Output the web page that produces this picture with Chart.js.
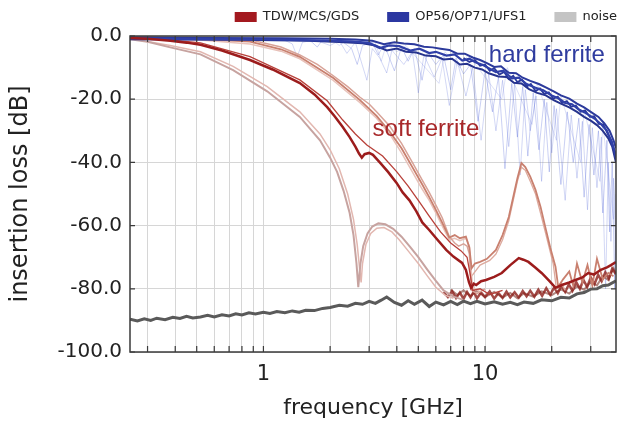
<!DOCTYPE html>
<html lang="en">
<head>
<meta charset="UTF-8">
<title>Insertion loss vs frequency</title>
<script src="https://cdn.jsdelivr.net/npm/chart.js"></script>
<style>
    html, body { margin: 0; padding: 0; background: #fff; }
    .wrap { width: 628px; height: 421px; }
</style>
</head>
<body>
<div class="wrap"><canvas id="chart"></canvas></div>
<script>
// axis ticks
const xTicks = [0.3, 0.4, 0.5, 0.6, 0.7, 0.8, 0.9, 1, 2, 3, 4, 5, 6, 7, 8, 9, 10, 20, 30];
const xLabeled = [1, 10];
const yTicks = [0, -20, -40, -60, -80, -100];

// legend entries
const legendNames = ['TDW/MCS/GDS', 'OP56/OP71/UFS1', 'noise'];

// series: [frequency GHz, insertion loss dB]
const noise = [[0.25,-89.6],[0.27,-90.2],[0.29,-89.5],[0.31,-90.0],[0.33,-89.3],[0.36,-89.8],[0.39,-89.0],[0.42,-89.4],[0.45,-88.7],[0.48,-89.2],
    [0.52,-88.9],[0.56,-88.4],[0.6,-88.9],[0.65,-88.2],[0.7,-88.6],[0.75,-87.9],[0.8,-88.3],[0.86,-87.6],[0.92,-88.0],[1.0,-87.4],
    [1.07,-87.8],[1.15,-87.2],[1.25,-87.6],[1.35,-87.0],[1.45,-87.4],[1.55,-86.8],[1.7,-86.9],[1.85,-86.2],[2.0,-85.9],[2.2,-85.2],
    [2.4,-85.5],[2.6,-84.6],[2.8,-84.9],[3.0,-84.0],[3.2,-84.6],[3.4,-83.6],[3.6,-82.6],[3.9,-84.3],[4.2,-85.2],[4.5,-83.8],
    [4.8,-84.9],[5.2,-83.6],[5.6,-85.6],[6.0,-84.2],[6.5,-85.1],[7.0,-84.0],[7.5,-85.0],[8.0,-83.9],[8.6,-84.7],[9.2,-84.0],
    [10,-84.8],[11,-84.1],[12,-84.9],[13,-84.3],[14,-85.0],[15,-84.2],[16.5,-84.6],[18,-83.5],[20,-83.8],[22,-82.7],
    [24,-82.9],[26,-81.6],[28,-81.2],[30,-80.1],[32,-80.0],[34,-79.0],[36,-78.8],[39,-77.5]];

const softFloorA = [[6.5,-81],[6.8,-82.6],[7.1,-80.8],[7.4,-82.9],[7.7,-81.2],[8,-83.2],[8.3,-81.0],[8.6,-82.7],[8.9,-80.9],[9.2,-83],
    [9.6,-81.2],[10,-82.6],[10.5,-80.8],[11,-83.1],[11.5,-81.3],[12,-82.9],[12.5,-80.9],[13,-82.7],[13.6,-81.1],[14.2,-82.8],[14.8,-80.7],
    [15.4,-82.4],[16,-80.6],[16.7,-82.5],[17.4,-80.3],[18.1,-82.2],[18.9,-79.8],[19.7,-81.9],[20.5,-79.6],[21.3,-81.4],[22.1,-79.0],
    [23,-81.0],[23.9,-78.6],[24.8,-80.6],[25.8,-77.9],[26.8,-80.0],[27.8,-77.2],[28.9,-79.4],[30,-76.4],[31.2,-78.5],[32.4,-75.6],
    [33.6,-77.6],[34.9,-74.8],[36.2,-76.8],[37.5,-73.6],[39,-75.4]];
const softFloorB = [[7,-80.2],[7.5,-82],[8,-80.5],[8.6,-82.3],[9.2,-80.6],[10,-82.6],[11,-81],[12,-82.8],[13,-81.3],[14,-83],[15,-81.4],
    [16.5,-82.5],[18,-80.8],[20,-82],[22,-80.2],[24,-81.5],[26,-79.2],[28,-80.3],[30,-77.8],[32,-78.9],[34,-76],[36,-77.2],[38,-73.5],[39,-75]];

const softNotchA = [[0.25,-1.0],[0.3,-1.8],[0.38,-3.6],[0.52,-5.8],[0.73,-10.8],[1.04,-17.5],[1.46,-25.6],[1.8,-33],[2.0,-38.5],[2.15,-43],
    [2.3,-49],[2.45,-56],[2.55,-63],[2.63,-72],[2.68,-79.5],[2.74,-72],[2.82,-66.5],[2.95,-62.5],[3.1,-60.3],[3.3,-59.3],[3.55,-59.6],
    [3.85,-61],[4.2,-63.5],[4.6,-66.8],[5.0,-70],[5.5,-74],[6.0,-77.5],[6.5,-80.5],[7.2,-82.5],[8,-83.5]];
const softNotchB = [[0.25,-0.8],[0.38,-3.0],[0.52,-5.0],[0.73,-9.6],[1.04,-16],[1.46,-24],[1.8,-31],[2.0,-36],[2.2,-42],[2.4,-50],
    [2.55,-58],[2.65,-66],[2.72,-74],[2.76,-78],[2.8,-72],[2.9,-66],[3.05,-62.5],[3.25,-60.8],[3.5,-60.6],[3.8,-62],[4.1,-64.5],
    [4.5,-68],[5.0,-72],[5.5,-76],[6.0,-79.5],[6.6,-82],[7.2,-83]];

const softMain = [[0.25,-0.6],[0.3,-0.9],[0.38,-1.5],[0.45,-2.1],[0.52,-2.8],[0.65,-4.6],[0.87,-7.6],[1.1,-10.6],[1.46,-14.9],[1.7,-18.5],
    [1.94,-22.5],[2.1,-25.5],[2.28,-28.8],[2.45,-32],[2.6,-35],[2.7,-37.2],[2.78,-38.5],[2.86,-37.4],[3.0,-37.0],[3.12,-37.6],[3.35,-40],
    [3.65,-43],[3.99,-46.5],[4.25,-49.5],[4.56,-52],[4.9,-55.5],[5.21,-59],[5.6,-61.4],[6.1,-64.5],[6.68,-67.7],[7.2,-69.8],[7.88,-71.8],
    [8.2,-74],[8.47,-78],[8.65,-79.7],[8.9,-78.4],[9.12,-78.8],[9.6,-77.6],[10.1,-77.2],[11,-76.2],[11.9,-75],[13,-72.5],[14.2,-70.3],
    [14.9,-70.8],[15.7,-71.5],[16.8,-73.2],[18.0,-75],[19.5,-77.5],[20.8,-79.7],[22.2,-78.8],[24,-78],[25.6,-77.2],[27.5,-76.4],
    [29.2,-75],[31,-75.5],[33.3,-74],[35.5,-73.2],[37,-72.5],[39,-71.5]];
const softSecond = [[0.25,-0.5],[0.38,-1.2],[0.52,-2.2],[0.87,-6.5],[1.46,-13.9],[1.94,-20.5],[2.28,-26.6],[2.6,-31],[2.93,-34.5],[3.45,-38],
    [4.0,-43],[4.5,-47.5],[5.0,-52],[5.6,-57],[6.3,-62],[7.0,-65.5],[7.8,-68],[8.3,-70],[8.6,-76],[8.8,-80.5],[9.5,-80],[10.5,-81.8],[12,-80.5]];
const softUpperA = [[0.25,-0.3],[0.5,-0.6],[0.87,-1.2],[1.2,-3.5],[1.46,-6.0],[1.75,-9],[2.06,-12.5],[2.4,-16],[2.72,-19.3],[3.0,-21.5],
    [3.24,-24],[3.71,-28.5],[4.2,-34],[4.7,-40],[5.21,-45.6],[5.6,-49.5],[6.0,-53.5],[6.41,-57.5],[6.9,-63.5],[7.3,-65.5],[7.6,-66.5],
    [8.0,-65.8],[8.3,-66.5],[8.5,-69],[8.6,-76],[8.7,-80.5],[9.2,-81.5],[10,-80]];
const softUpperB = [[0.25,-0.5],[0.5,-1.2],[0.87,-2.5],[1.2,-4.8],[1.46,-7.2],[2.06,-14],[2.72,-21],[3.24,-26],[3.71,-31],[4.2,-37],
    [4.7,-43],[5.21,-48.5],[5.6,-52],[6.0,-56],[6.4,-60],[6.9,-64.5],[7.3,-64],[7.7,-64.8],[8.2,-64],[8.5,-66.5],[8.65,-74],[8.8,-79.5],[9.5,-81]];
const softPeakA = [[0.25,-0.4],[0.5,-0.9],[0.87,-1.8],[1.2,-4.2],[1.46,-6.6],[2.06,-13.2],[2.72,-20.2],[3.24,-25.3],[3.71,-30.2],[4.2,-35.5],
    [4.7,-41.5],[5.21,-47],[5.6,-51],[6.0,-55],[6.4,-59],[6.9,-63.8],[7.3,-63],[7.7,-64],[8.2,-63.5],[8.5,-67],[8.7,-73.5],[9.0,-72],
    [9.5,-71.5],[10.2,-70.5],[11.2,-67.7],[12.0,-63],[12.8,-57.3],[13.5,-50],[14.0,-45],[14.6,-40.2],[15.2,-41.5],[16.0,-44.5],[16.9,-48.7],
    [17.8,-54],[18.7,-60.4],[19.7,-67],[20.8,-73],[21.4,-79.4],[22.5,-77],[24,-74.5],[25,-79],[26,-72],[27.5,-78],[29,-72.5],[30.5,-79],
    [32,-70.5],[34,-77],[36,-75],[38,-76]];
const softPeakB = [[8.7,-76],[9.5,-72.5],[10.5,-71],[11.2,-69],[12.0,-64.5],[12.8,-58.5],[14.0,-46],[14.6,-41.5],[15.2,-42.5],[16.0,-46],
    [16.9,-50],[17.8,-56],[18.7,-62],[20.3,-72],[21,-80],[22,-78],[23,-80.5]];

const hardMid = [[0.25,-0.8],[0.5,-1.0],[1,-1.1],[1.5,-1.3],[2,-1.5],[2.5,-1.7],[3.0,-2.2],[3.35,-3.8],[3.7,-3.0],[4.1,-3.2],[4.6,-4.6],
    [5.06,-4.0],[5.6,-5.4],[6.0,-5.0],[6.7,-6.2],[7.3,-5.8],[7.9,-7.8],[8.5,-7.2],[9.1,-8.4],[9.8,-9.2],[10.4,-10.2],[11.2,-11.4],
    [12.1,-11.0],[13.2,-13.4],[14.2,-13.2],[15.4,-15.2],[16.9,-16.4],[18.3,-17.2],[20,-18.8],[21.5,-19.8],[23,-21.2],[24.7,-21.6],
    [26.4,-23.2],[28.5,-24.4],[31.3,-26.2],[33.5,-28.0],[35.5,-30.0],[37,-33.0],[38.5,-36.5],[39,-38.5]];
const hardUpper = [[0.25,-0.4],[0.6,-0.6],[1.2,-0.7],[2,-0.9],[2.6,-1.1],[3.1,-1.5],[3.5,-2.6],[3.9,-2.0],[4.3,-2.4],[4.8,-2.6],[5.3,-3.4],
    [5.8,-3.6],[6.3,-4.0],[6.9,-4.4],[7.5,-5.6],[8.1,-5.6],[8.8,-6.8],[9.5,-7.6],[10.2,-8.6],[11,-9.8],[11.8,-9.6],[12.8,-11.6],
    [13.8,-11.8],[14.8,-13.2],[16,-14.2],[17.5,-15.2],[19,-16.4],[20.5,-17.6],[22,-18.8],[24,-19.8],[26,-21.4],[28,-22.6],[30,-24.0],
    [32.5,-25.6],[34.5,-27.6],[36.5,-30.0],[38,-33.0],[39,-35.5]];
const hardLower = [[0.25,-1.0],[0.8,-1.2],[1.6,-1.5],[2.2,-1.9],[2.8,-2.3],[3.2,-3.0],[3.6,-4.6],[4.0,-4.0],[4.4,-5.0],[4.9,-5.2],[5.4,-6.2],
    [6.0,-6.4],[6.5,-7.4],[7.1,-7.2],[7.7,-9.0],[8.3,-8.8],[9.0,-10.0],[9.7,-10.6],[10.4,-11.8],[11.5,-12.8],[12.5,-13.0],[13.5,-14.8],
    [14.6,-15.0],[15.8,-16.8],[17.2,-18.0],[18.8,-18.8],[20.5,-20.4],[22,-21.4],[24,-22.6],[26,-24.0],[28,-25.6],[30,-26.8],[32,-28.2],
    [34,-30.0],[36,-32.4],[37.5,-35.0],[39,-40]];
const hardJitter = [[8,-7.0],[8.5,-8.2],[9,-7.6],[9.5,-9.4],[10,-9.0],[10.5,-11.0],[11,-10.2],[11.6,-12.2],[12.2,-11.4],[12.8,-13.6],
    [13.4,-12.6],[14,-14.6],[14.7,-13.8],[15.4,-16.0],[16.1,-15.2],[16.9,-17.4],[17.7,-16.6],[18.5,-18.4],[19.4,-17.8],[20.3,-19.8],
    [21.3,-19.2],[22.3,-21.2],[23.4,-20.6],[24.5,-22.4],[25.7,-22.0],[27,-24.0],[28.3,-23.6],[29.7,-25.6],[31.1,-25.4],[32.6,-27.8],
    [34.2,-28.0],[35.8,-31.0],[37.4,-33.4],[39,-39]];
const hardThinA = [[0.25,-0.5],[1.0,-0.8],[1.6,-1.0],[1.75,-3.5],[1.85,-1.2],[2.0,-2.0],[2.2,-1.0],[2.5,-4.0],[2.65,-9.0],[2.8,-3.0],
    [3.1,-2.0],[3.3,-6.0],[3.5,-2.5],[3.9,-11],[4.2,-3.5],[4.5,-8],[4.8,-4],[5.2,-14],[5.5,-5],[6.0,-9],[6.5,-6],[7.0,-17],[7.4,-7],
    [8.0,-12],[8.6,-9],[9.3,-27],[10,-11],[10.8,-24],[11.5,-13],[12.3,-42],[13.2,-15],[14,-32],[14.8,-16],[15.6,-38],[16.5,-18],
    [17.5,-36],[18.5,-20],[19.5,-43],[20.5,-22],[22,-47],[23.5,-24],[25,-40],[26.5,-26],[28,-51],[29.5,-28],[31,-44],[32.5,-30],
    [34,-56],[35.5,-33],[36.5,-62],[37.5,-40],[38.5,-80],[39,-50]];
const hardThinB = [[0.25,-0.6],[1.2,-0.8],[1.35,-2.5],[1.42,-6.6],[1.5,-2.0],[1.7,-1.2],[2.0,-3.0],[2.2,-1.5],[2.38,-5.5],[2.6,-2.0],
    [2.93,-14],[3.1,-4],[3.35,-7],[3.6,-11.7],[3.8,-4.5],[4.3,-9],[4.7,-5],[5.0,-18],[5.3,-6],[5.9,-13],[6.4,-7],[6.9,-22],[7.5,-8],
    [8.2,-19],[8.8,-10],[9.6,-33],[10.4,-12],[11.2,-30],[12,-14],[12.8,-35],[13.6,-15],[14.4,-44],[15.2,-17],[16,-30],[17,-19],
    [18,-46],[19,-21],[20,-37],[21,-23],[23,-52],[24.5,-25],[26,-45],[27.5,-27],[29,-55],[30.5,-29],[32,-48],[33.5,-32],[35,-80],
    [36,-40],[37,-65],[38,-45],[39,-72]];
const hardThinC = [[0.25,-0.4],[2.0,-0.8],[2.2,-3],[2.4,-1],[3.2,-2],[3.4,-8],[3.6,-2.5],[4.0,-5],[4.4,-3],[6.2,-15],[6.6,-5],[7.7,-10],
    [8.4,-6],[11.9,-20],[12.6,-10],[16.3,-28],[17.2,-15],[21,-33],[22,-19],[27,-40],[28,-23],[33,-46],[34,-28],[38,-58],[39,-40]];

function line(points, color, width) {
    return {
        data: points.map(p => ({x: p[0], y: p[1]})),
        borderColor: color,
        borderWidth: width,
        pointRadius: 0,
        tension: 0,
        fill: false
    };
}

// first in list is drawn on top
const datasets = [
    line(softMain, '#9c1c1c', 2.5),
    line(hardMid, '#3040a8', 2.2),
    line(hardJitter, '#2a389a', 1.8),
    line(hardUpper, '#2c3a9c', 2),
    line(hardLower, '#27348e', 2),
    line(noise, '#5a5a5a', 3),
    line(softSecond, '#b8413a', 1.3),
    line(softPeakA, '#c9806f', 1.8),
    line(softUpperA, '#d8a398', 1.5),
    line(softNotchA, '#c7a3a0', 2),
    line(softNotchB, '#e2b7b0', 1.5),
    line(softUpperB, '#e8c2ba', 1.5),
    line(softPeakB, '#ddaa9e', 1.3),
    line(softFloorA, 'rgba(140,30,25,0.8)', 2.5),
    line(softFloorB, 'rgba(125,55,45,0.6)', 2),
    line(hardThinA, 'rgba(80,100,215,0.3)', 1),
    line(hardThinB, 'rgba(80,100,215,0.25)', 1),
    line(hardThinC, 'rgba(100,120,220,0.22)', 1)
];

const legendColors = ['#a3191f', '#2b37a1', '#c4c4c4'];

const framePlugin = {
    id: 'frame',
    afterDatasetsDraw(chart) {
        const {ctx, chartArea: a, scales: {x, y}} = chart;
        ctx.save();
        ctx.strokeStyle = '#3a3a3a';
        ctx.lineWidth = 1.5;
        ctx.strokeRect(a.left, a.top, a.right - a.left, a.bottom - a.top);
        ctx.lineWidth = 1.2;
        ctx.beginPath();
        xTicks.forEach(v => {
            const px = x.getPixelForValue(v);
            ctx.moveTo(px, a.bottom); ctx.lineTo(px, a.bottom - 6);
            ctx.moveTo(px, a.top); ctx.lineTo(px, a.top + 6);
        });
        yTicks.forEach(v => {
            const py = y.getPixelForValue(v);
            ctx.moveTo(a.left, py); ctx.lineTo(a.left + 5, py);
            ctx.moveTo(a.right, py); ctx.lineTo(a.right - 5, py);
        });
        ctx.stroke();

        ctx.font = '24px "Liberation Sans", Arial, sans-serif';
        ctx.textBaseline = 'middle';
        ctx.textAlign = 'left';
        ctx.fillStyle = '#2f3c9f';
        ctx.fillText('hard ferrite', x.getPixelForValue(10.4), y.getPixelForValue(-6));
        ctx.fillStyle = '#a8282a';
        ctx.fillText('soft ferrite', x.getPixelForValue(3.11), y.getPixelForValue(-29.7));
        ctx.restore();
    },
    afterDraw(chart) {
        // legend row above the plot, laid out from the right edge
        const {ctx, chartArea: a} = chart;
        ctx.save();
        ctx.font = '13px "DejaVu Sans", sans-serif';
        ctx.textBaseline = 'middle';
        ctx.textAlign = 'left';
        let xr = a.right + 1;
        const cy = 17;
        for (let i = legendNames.length - 1; i >= 0; i--) {
            const w = ctx.measureText(legendNames[i]).width;
            const tx = xr - w;
            ctx.fillStyle = '#222';
            ctx.fillText(legendNames[i], tx, cy);
            ctx.fillStyle = legendColors[i];
            ctx.fillRect(tx - 28, cy - 5, 22, 10);
            xr = tx - 28 - 28;
        }
        ctx.restore();
    }
};

new Chart(document.getElementById('chart'), {
    type: 'line',
    data: { datasets: datasets },
    options: {
        responsive: true,
        maintainAspectRatio: false,
        animation: false,
        layout: { padding: { top: 36, right: 12, bottom: 0, left: 0 } },
        plugins: {
            legend: { display: false },
            tooltip: { enabled: false }
        },
        scales: {
            x: {
                type: 'logarithmic',
                min: 0.25,
                max: 39,
                afterFit(s) { s.height = 69; },
                afterBuildTicks(s) { s.ticks = xTicks.map(v => ({value: v})); },
                ticks: {
                    autoSkip: false,
                    maxRotation: 0,
                    padding: 10,
                    color: '#222',
                    font: { family: 'DejaVu Sans', size: 21 },
                    callback: v => xLabeled.includes(v) ? String(v) : ''
                },
                grid: { color: '#d6d6d6', drawTicks: false },
                border: { display: false },
                title: {
                    display: true,
                    text: 'frequency [GHz]',
                    color: '#222',
                    font: { family: 'DejaVu Sans', size: 22 },
                    padding: { top: 0, bottom: 0 }
                }
            },
            y: {
                min: -100,
                max: 0,
                afterFit(s) { s.width = 130; },
                afterBuildTicks(s) { s.ticks = yTicks.map(v => ({value: v})); },
                ticks: {
                    padding: 8,
                    color: '#222',
                    font: { family: 'DejaVu Sans', size: 20 },
                    callback: v => v.toFixed(1)
                },
                grid: { color: '#d6d6d6', drawTicks: false },
                border: { display: false },
                title: {
                    display: true,
                    text: 'insertion loss [dB]',
                    color: '#222',
                    font: { family: 'DejaVu Sans', size: 24 },
                    padding: { top: 6, bottom: 0 }
                }
            }
        }
    },
    plugins: [framePlugin]
});
</script>
</body>
</html>
